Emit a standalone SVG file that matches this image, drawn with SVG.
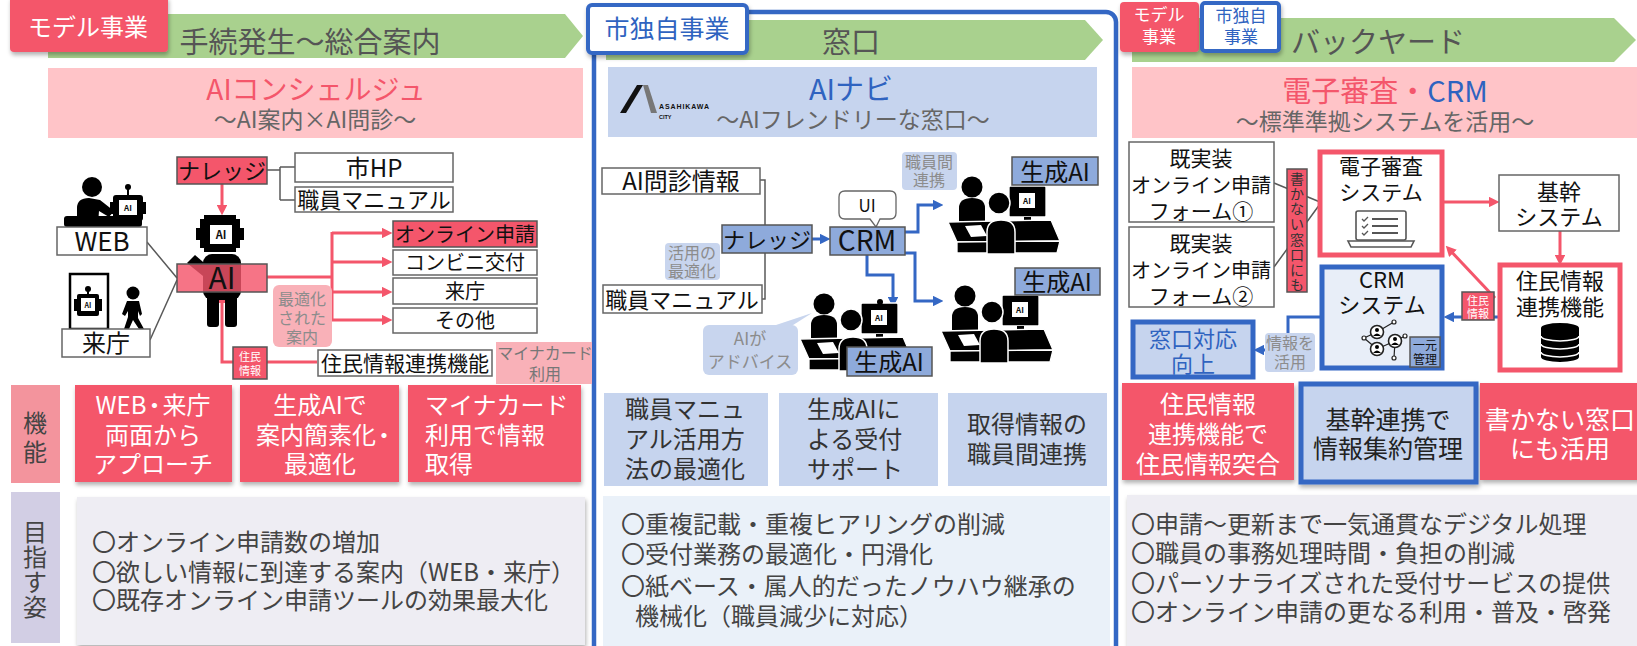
<svg xmlns="http://www.w3.org/2000/svg" width="1637" height="646" viewBox="0 0 1637 646">
<style>
text{font-family:"Noto Sans CJK JP","Noto Sans",sans-serif;fill:#111}
.c{text-anchor:middle}
.hd{font-size:29px;fill:#555}
.sub{font-size:23px;fill:#666}
.box{fill:#fff;stroke:#666;stroke-width:1.5}
.rbox{fill:#f4566b;stroke:#555;stroke-width:1.5}
.bbox{fill:#8eaadb;stroke:#555;stroke-width:1.5}
.lbl{fill:#c8d5ee}
.plbl{fill:#f9b1b8}
.gt{fill:#8c8c8c;font-size:16px}
.ln{fill:none;stroke:#595959;stroke-width:1.5}
.ra{fill:none;stroke:#f4566b;stroke-width:3}
.ba{fill:none;stroke:#3467c4;stroke-width:3}
.ic{fill:#000}
.wf{fill:#fff}
.feat{fill:#f4566b}
.ft{font-size:24px;fill:#fff}
.bt{font-size:24px;fill:#333}
.goal{font-size:24px;fill:#444}
.bold{font-weight:bold}
</style>
<defs>
<filter id="sh" x="-10%" y="-10%" width="125%" height="135%"><feDropShadow dx="1" dy="3" stdDeviation="2" flood-color="#000" flood-opacity="0.3"/></filter>
<marker id="mr" viewBox="0 0 10 10" refX="2" refY="5" markerWidth="3.5" markerHeight="3.5" orient="auto"><path d="M0,0L10,5L0,10z" fill="#f4566b"/></marker>
<marker id="mb" viewBox="0 0 10 10" refX="2" refY="5" markerWidth="3.5" markerHeight="3.5" orient="auto"><path d="M0,0L10,5L0,10z" fill="#3467c4"/></marker>
<!-- two staff members at a counter with an AI monitor -->
<g id="worker">
 <circle cx="27" cy="14" r="10.5" class="ic"/>
 <path d="M14,50V35Q14,25 27,25Q40,25 40,35V50Z" class="ic"/>
 <rect x="64" y="13" width="37" height="31" rx="1.5" fill="#000" stroke="#fff" stroke-width="1.3"/>
 <rect x="74" y="20" width="16" height="15" fill="#fff"/>
 <text x="82" y="31" class="c bold" style="font-size:8px">AI</text>
 <rect x="79" y="44" width="7" height="5" class="ic"/>
 <polygon points="3,49 106,47 115,68 12,69" fill="#000" stroke="#fff" stroke-width="1.3"/>
 <polygon points="12,69 115,68 112,80 12,80" fill="#000" stroke="#fff" stroke-width="1.3"/>
 <polygon points="20,53 36,52 42,63 26,64" fill="#fff"/>
 <circle cx="54" cy="30" r="11" fill="#000" stroke="#fff" stroke-width="1.5"/>
 <path d="M42,81V59Q42,47 56,47Q70,47 70,59V81Z" fill="#000" stroke="#fff" stroke-width="1.5"/>
</g>
</defs>

<rect width="1637" height="646" fill="#fff"/>

<!-- ===== headers ===== -->
<g id="header-left">
 <polygon points="48,14 565,14 583,36 565,58 48,58" fill="#a9d18e"/>
 <rect x="10" y="-4" width="158" height="56" rx="4" fill="#f4566b" filter="url(#sh)"/>
 <text x="88" y="36" class="c" style="font-size:24px;fill:#fff">モデル事業</text>
 <text x="310" y="53" class="c hd">手続発生～総合案内</text>
 <rect x="48" y="68" width="535" height="70" fill="#ffc4c8"/>
 <text x="316" y="100" class="c" style="font-size:28px;fill:#f4566b">AIコンシェルジュ</text>
 <text x="315" y="128" class="c sub">～AI案内×AI問診～</text>
</g>

<g id="header-center">
 <polygon points="606,20 1085,20 1103,40 1085,60 606,60" fill="#a9d18e"/>
 <rect x="594" y="12" width="522" height="645" rx="10" fill="none" stroke="#3467c4" stroke-width="4.5"/>
 <rect x="588" y="5" width="159" height="48" rx="4" fill="#fff" stroke="#3467c4" stroke-width="4" filter="url(#sh)"/>
 <text x="667" y="38" class="c" style="font-size:25px;fill:#2f63c0">市独自事業</text>
 <text x="851" y="53" class="c hd">窓口</text>
 <rect x="608" y="67" width="489" height="70" fill="#c6d4ee"/>
 <polygon points="620,113 637,85 643,85 626,113" fill="#111"/>
 <polygon points="643,85 648,85 657,113 651,113" fill="#777"/>
 <text x="659" y="109" textLength="50" style="font-size:7px;font-weight:bold;font-family:'Liberation Sans',sans-serif">ASAHIKAWA</text>
 <text x="659" y="119" style="font-size:5.5px;font-weight:bold;font-family:'Liberation Sans',sans-serif">CITY</text>
 <text x="851" y="100" class="c" style="font-size:29px;fill:#2f63c0">AIナビ</text>
 <text x="853" y="128" class="c sub">～AIフレンドリーな窓口～</text>
</g>

<g id="header-right">
 <polygon points="1132,18 1614,18 1636,40 1614,62 1132,62" fill="#a9d18e"/>
 <rect x="1120" y="2" width="79" height="50" rx="4" fill="#f4566b" filter="url(#sh)"/>
 <text x="1159" y="21" class="c" style="font-size:17px;fill:#fff">モデル</text>
 <text x="1159" y="43" class="c" style="font-size:17px;fill:#fff">事業</text>
 <rect x="1202" y="3" width="77" height="48" rx="3" fill="#fff" stroke="#3467c4" stroke-width="4" filter="url(#sh)"/>
 <text x="1241" y="22" class="c" style="font-size:17px;fill:#2f63c0">市独自</text>
 <text x="1241" y="43" class="c" style="font-size:17px;fill:#2f63c0">事業</text>
 <text x="1378" y="53" class="c hd">バックヤード</text>
 <rect x="1132" y="67" width="505" height="71" fill="#ffc4c8"/>
 <text x="1385" y="102" class="c" style="font-size:29px"><tspan style="fill:#f4566b">電子審査・</tspan><tspan style="fill:#2f63c0">CRM</tspan></text>
 <text x="1385" y="130" class="c sub">～標準準拠システムを活用～</text>
</g>

<!-- ===== connectors ===== -->
<g id="connectors">
 <!-- left: concierge -->
 <path class="ln" d="M267,170H280M280,167V200M280,167H295M280,200H295"/>
 <path class="ln" d="M147,242L177,278M150,340L177,280"/>
 <path class="ra" d="M222,184V207" marker-end="url(#mr)"/>
 <path class="ra" d="M267,277H332M332,232V321"/>
 <path class="ra" d="M332,233H384" marker-end="url(#mr)"/>
 <path class="ra" d="M332,262H384" marker-end="url(#mr)"/>
 <path class="ra" d="M332,292H384" marker-end="url(#mr)"/>
 <path class="ra" d="M332,320H384" marker-end="url(#mr)"/>
 <path class="ra" d="M317,362H222V301" marker-end="url(#mr)"/>
 <!-- center: AI navi -->
 <path class="ln" d="M760,180H765V299H762"/>
 <path class="ba" d="M812,239H822" marker-end="url(#mb)"/>
 <path class="ba" d="M905,232H918V205H935" marker-end="url(#mb)"/>
 <path class="ba" d="M905,253H915V301H935" marker-end="url(#mb)"/>
 <path class="ba" d="M867,255V275H893V299" marker-end="url(#mb)"/>
 <!-- right: back office -->
 <path class="ln" d="M1274,183L1320,202M1274,267L1320,204"/>
 <path class="ra" d="M1442,202H1491" marker-end="url(#mr)"/>
 <path class="ra" d="M1560,231V257" marker-end="url(#mr)"/>
 <path class="ra" d="M1495,298L1451.5,251.8" marker-end="url(#mr)"/>
 <path class="ba" d="M1500,317H1452" marker-end="url(#mb)"/>
 <path class="ba" d="M1322,317H1288V350H1262" marker-end="url(#mb)"/>
</g>

<!-- ===== left diagram nodes ===== -->
<g id="web-user">
 <circle cx="92" cy="187" r="10" class="ic"/>
 <path d="M77,224V208Q77,198 89,198L100,200L114,211L109,217L99,211L98,224Z" class="ic"/>
 <rect x="64" y="216" width="78" height="11" rx="3" class="ic"/>
 <circle cx="128" cy="187" r="3" class="ic"/>
 <rect x="127" y="188" width="2" height="8" class="ic"/>
 <rect x="110" y="202" width="4" height="12" class="ic"/>
 <rect x="142" y="202" width="4" height="12" class="ic"/>
 <rect x="113" y="195" width="30" height="26" rx="3" class="ic"/>
 <rect x="119" y="200" width="18" height="15" class="wf"/>
 <text x="128" y="211" class="c bold" style="font-size:8px">AI</text>
</g>
<g id="web">
 <rect x="57" y="227" width="90" height="28" class="box"/>
 <text x="102" y="251" class="c" style="font-size:26px">WEB</text>
</g>
<g id="visit-user">
 <rect x="70" y="274" width="38" height="55" fill="#fff" stroke="#000" stroke-width="2.5"/>
 <circle cx="88" cy="289" r="3" class="ic"/>
 <rect x="87" y="290" width="2" height="5" class="ic"/>
 <rect x="74" y="299" width="4" height="12" class="ic"/>
 <rect x="98" y="299" width="4" height="12" class="ic"/>
 <rect x="77" y="294" width="22" height="22" rx="2" class="ic"/>
 <rect x="81" y="298" width="14" height="13" class="wf"/>
 <text x="88" y="308" class="c bold" style="font-size:7px">AI</text>
 <circle cx="133" cy="293" r="6.5" class="ic"/>
 <path d="M127,301H139L142,314L140,316L138,311V318L144,329H139L133,320L129,329H124L128,317V311L125,316L122,314Z" class="ic"/>
</g>
<g id="visit">
 <rect x="62" y="329" width="88" height="28" class="box"/>
 <text x="106" y="352" class="c" style="font-size:24px">来庁</text>
</g>
<g id="robot">
 <rect x="196" y="228" width="5" height="12" class="ic"/>
 <rect x="239" y="228" width="5" height="12" class="ic"/>
 <path d="M204,215H236V219H240V248H236V252H204V248H200V219H204Z" class="ic"/>
 <rect x="210" y="225" width="22" height="19" class="wf"/>
 <text x="221" y="239" class="c bold" style="font-size:11px">AI</text>
 <rect x="203" y="254" width="38" height="46" rx="9" class="ic"/>
 <polygon points="187,263 195,255 210,268 203,276" class="ic"/>
 <rect x="207" y="294" width="12" height="33" rx="3" class="ic"/>
 <rect x="225" y="294" width="12" height="33" rx="3" class="ic"/>
</g>
<g id="ai">
 <rect x="177" y="264" width="90" height="28" fill="#f4566b" fill-opacity="0.82" stroke="#555" stroke-width="1.5"/>
 <text x="222" y="289" class="c" style="font-size:30px">AI</text>
</g>
<g id="knowledge-left">
 <rect x="177" y="157" width="90" height="27" class="rbox"/>
 <text x="222" y="179" class="c" style="font-size:22px">ナレッジ</text>
</g>
<g id="city-hp">
 <rect x="295" y="153" width="158" height="29" class="box"/>
 <text x="374" y="177" class="c" style="font-size:24px">市HP</text>
</g>
<g id="manual-left">
 <rect x="295" y="187" width="158" height="25" class="box"/>
 <text x="374" y="208" class="c" style="font-size:22px">職員マニュアル</text>
</g>
<g id="online">
 <rect x="393" y="221" width="144" height="26" class="rbox"/>
 <text x="465" y="242" class="c" style="font-size:20px">オンライン申請</text>
</g>
<g id="konbini">
 <rect x="393" y="250" width="144" height="25" class="box"/>
 <text x="465" y="270" class="c" style="font-size:20px">コンビニ交付</text>
</g>
<g id="visit-out">
 <rect x="393" y="278" width="144" height="26" class="box"/>
 <text x="465" y="299" class="c" style="font-size:20px">来庁</text>
</g>
<g id="other">
 <rect x="393" y="308" width="144" height="25" class="box"/>
 <text x="465" y="328" class="c" style="font-size:20px">その他</text>
</g>
<g id="optimized-label">
 <rect x="273" y="285" width="59" height="62" rx="6" class="plbl"/>
 <text x="302" y="305" class="c gt">最適化</text>
 <text x="302" y="324" class="c gt">された</text>
 <text x="302" y="343" class="c gt">案内</text>
</g>
<g id="resident-link-left">
 <rect x="318" y="350" width="174" height="26" class="box"/>
 <text x="405" y="371" class="c" style="font-size:21px">住民情報連携機能</text>
</g>
<g id="resident-tag-left">
 <rect x="233" y="347" width="34" height="32" class="rbox"/>
 <text x="250" y="361" class="c" style="font-size:11px;fill:#fff">住民</text>
 <text x="250" y="375" class="c" style="font-size:11px;fill:#fff">情報</text>
</g>
<g id="mynumber">
 <rect x="496" y="342" width="96" height="42" class="plbl"/>
 <text x="545" y="359" class="c" style="font-size:16px;fill:#777">マイナカード</text>
 <text x="545" y="380" class="c" style="font-size:16px;fill:#777">利用</text>
</g>

<!-- ===== center diagram nodes ===== -->
<g id="interview">
 <rect x="602" y="168" width="158" height="26" class="box"/>
 <text x="681" y="190" class="c" style="font-size:24px">AI問診情報</text>
</g>
<g id="manual-center">
 <rect x="603" y="285" width="159" height="28" class="box"/>
 <text x="682" y="308" class="c" style="font-size:22px">職員マニュアル</text>
</g>
<g id="usage-label">
 <rect x="665" y="243" width="55" height="37" rx="4" class="lbl"/>
 <text x="692" y="259" class="c gt">活用の</text>
 <text x="692" y="277" class="c gt">最適化</text>
</g>
<g id="knowledge-center">
 <rect x="722" y="225" width="90" height="28" class="bbox"/>
 <text x="767" y="248" class="c" style="font-size:22px">ナレッジ</text>
</g>
<g id="ui-bubble">
 <path d="M845,191H890Q896,191 896,197V213Q896,219 890,219H880L876,227L870,219H845Q839,219 839,213V197Q839,191 845,191Z" fill="#fff" stroke="#666" stroke-width="1.3"/>
 <text x="867" y="212" class="c" style="font-size:17px">UI</text>
</g>
<g id="crm-center">
 <rect x="830" y="227" width="75" height="28" class="bbox"/>
 <text x="867" y="251" class="c" style="font-size:28px">CRM</text>
</g>
<g id="staff-link-label">
 <rect x="902" y="152" width="55" height="38" rx="4" class="lbl"/>
 <text x="929" y="168" class="c gt">職員間</text>
 <text x="929" y="186" class="c gt">連携</text>
</g>
<g id="advice-label">
 <polygon points="770,327 790,327 812,313" class="lbl"/>
 <rect x="703" y="325" width="95" height="50" rx="6" class="lbl"/>
 <text x="750" y="345" class="c gt" style="font-size:17px">AIが</text>
 <text x="750" y="368" class="c gt" style="font-size:17px">アドバイス</text>
</g>
<g id="desk-1"><use href="#worker" transform="translate(945,173)"/></g>
<g id="desk-2"><use href="#worker" transform="translate(938,282)"/></g>
<g id="desk-3">
 <use href="#worker" transform="translate(797,290)"/>
 <circle cx="880" cy="302" r="3" class="ic"/>
</g>
<g id="genai-1">
 <rect x="1012" y="157" width="86" height="28" class="bbox"/>
 <text x="1055" y="181" class="c" style="font-size:24px">生成AI</text>
</g>
<g id="genai-2">
 <rect x="1015" y="268" width="85" height="27" class="bbox"/>
 <text x="1057" y="291" class="c" style="font-size:24px">生成AI</text>
</g>
<g id="genai-3">
 <rect x="847" y="347" width="85" height="29" class="bbox"/>
 <text x="889" y="371" class="c" style="font-size:24px">生成AI</text>
</g>

<!-- ===== right diagram nodes ===== -->
<g id="form-1">
 <rect x="1129" y="142" width="145" height="80" class="box"/>
 <text x="1201" y="166" class="c" style="font-size:21px">既実装</text>
 <text x="1201" y="193" class="c" style="font-size:20px">オンライン申請</text>
 <text x="1201" y="219" class="c" style="font-size:21px">フォーム①</text>
</g>
<g id="form-2">
 <rect x="1129" y="227" width="145" height="80" class="box"/>
 <text x="1201" y="251" class="c" style="font-size:21px">既実装</text>
 <text x="1201" y="278" class="c" style="font-size:20px">オンライン申請</text>
 <text x="1201" y="304" class="c" style="font-size:21px">フォーム②</text>
</g>
<g id="no-writing-tag">
 <rect x="1287" y="169" width="20" height="123" class="rbox"/>
 <text class="c" style="font-size:14px;fill:#333"><tspan x="1297" y="184">書</tspan><tspan x="1297" y="199">か</tspan><tspan x="1297" y="214">な</tspan><tspan x="1297" y="229">い</tspan><tspan x="1297" y="245">窓</tspan><tspan x="1297" y="260">口</tspan><tspan x="1297" y="275">に</tspan><tspan x="1297" y="290">も</tspan></text>
</g>
<g id="e-review">
 <rect x="1320" y="152" width="122" height="103" fill="#fff" stroke="#f4566b" stroke-width="5"/>
 <text x="1381" y="174" class="c" style="font-size:21px">電子審査</text>
 <text x="1381" y="200" class="c" style="font-size:21px">システム</text>
 <rect x="1356" y="211" width="50" height="29" rx="2" fill="none" stroke="#555" stroke-width="1.6"/>
 <path d="M1348,241H1414L1411,247H1351Z" fill="none" stroke="#555" stroke-width="1.6"/>
 <path d="M1362,219l2,2 4,-4M1362,226l2,2 4,-4M1362,233l2,2 4,-4" fill="none" stroke="#555" stroke-width="1.3"/>
 <path d="M1372,219H1398M1372,226H1398M1372,233H1398" fill="none" stroke="#555" stroke-width="2"/>
</g>
<g id="core">
 <rect x="1499" y="175" width="120" height="56" class="box"/>
 <text x="1559" y="200" class="c" style="font-size:22px">基幹</text>
 <text x="1559" y="225" class="c" style="font-size:22px">システム</text>
</g>
<g id="resident-link-right">
 <rect x="1500" y="265" width="120" height="105" fill="#fff" stroke="#f4566b" stroke-width="5"/>
 <text x="1560" y="289" class="c" style="font-size:22px">住民情報</text>
 <text x="1560" y="315" class="c" style="font-size:22px">連携機能</text>
 <path d="M1541,328V357A19,5 0 0 0 1579,357V328Z" class="ic"/>
 <ellipse cx="1560" cy="328" rx="19" ry="5" class="ic"/>
 <path d="M1541,336A19,5 0 0 0 1579,336M1541,344A19,5 0 0 0 1579,344M1541,352A19,5 0 0 0 1579,352" fill="none" stroke="#fff" stroke-width="1.5"/>
</g>
<g id="resident-tag-right">
 <rect x="1462" y="292" width="32" height="28" class="rbox"/>
 <text x="1478" y="305" class="c" style="font-size:11px;fill:#fff">住民</text>
 <text x="1478" y="318" class="c" style="font-size:11px;fill:#fff">情報</text>
</g>
<g id="crm-system">
 <rect x="1322" y="267" width="120" height="101" fill="#e8eef8" stroke="#3467c4" stroke-width="5"/>
 <text x="1382" y="288" class="c" style="font-size:22px">CRM</text>
 <text x="1382" y="313" class="c" style="font-size:22px">システム</text>
 <path d="M1364,338L1377,332M1377,332L1394,322M1395,341L1394,358M1377,349L1395,341M1364,338L1377,349M1395,341L1405,336" fill="none" stroke="#222" stroke-width="1.2"/>
 <circle cx="1364" cy="338" r="2" fill="#fff" stroke="#222" stroke-width="1.2"/>
 <circle cx="1394" cy="322" r="2" fill="#fff" stroke="#222" stroke-width="1.2"/>
 <circle cx="1394" cy="358" r="2" fill="#fff" stroke="#222" stroke-width="1.2"/>
 <circle cx="1405" cy="336" r="2" fill="#fff" stroke="#222" stroke-width="1.2"/>
 <g fill="#fff" stroke="#222" stroke-width="1.6">
  <circle cx="1377" cy="332" r="6.5"/><circle cx="1395" cy="341" r="6.5"/><circle cx="1377" cy="349" r="6.5"/>
 </g>
 <g class="ic">
  <circle cx="1377" cy="330" r="2"/><path d="M1373,336Q1377,331 1381,336Z"/>
  <circle cx="1395" cy="339" r="2"/><path d="M1391,345Q1395,340 1399,345Z"/>
  <circle cx="1377" cy="347" r="2"/><path d="M1373,353Q1377,348 1381,353Z"/>
 </g>
</g>
<g id="unified-tag">
 <rect x="1410" y="337" width="30" height="30" class="bbox"/>
 <text x="1425" y="350" class="c" style="font-size:12px">一元</text>
 <text x="1425" y="364" class="c" style="font-size:12px">管理</text>
</g>
<g id="service-up">
 <rect x="1133" y="322" width="120" height="55" fill="#c6d4ee" stroke="#3467c4" stroke-width="5"/>
 <text x="1193" y="347" class="c" style="font-size:22px;fill:#2f63c0">窓口対応</text>
 <text x="1193" y="372" class="c" style="font-size:22px;fill:#2f63c0">向上</text>
</g>
<g id="use-info-label">
 <rect x="1265" y="333" width="50" height="39" rx="4" class="lbl"/>
 <text x="1290" y="349" class="c gt">情報を</text>
 <text x="1290" y="368" class="c gt">活用</text>
</g>

<!-- ===== row captions ===== -->
<g id="caption-function">
 <rect x="11" y="385" width="49" height="98" fill="#f3949d"/>
 <text x="35" y="432" class="c" style="font-size:24px;fill:#444">機</text>
 <text x="35" y="461" class="c" style="font-size:24px;fill:#444">能</text>
</g>
<g id="caption-goal">
 <rect x="11" y="492" width="49" height="151" fill="#d2cee4"/>
 <text class="c" style="font-size:24px;fill:#444"><tspan x="35" y="541">目</tspan><tspan x="35" y="566">指</tspan><tspan x="35" y="591">す</tspan><tspan x="35" y="616">姿</tspan></text>
</g>

<!-- ===== feature boxes ===== -->
<g id="feat-l1">
 <rect x="75" y="385" width="157" height="97" class="feat" filter="url(#sh)"/>
 <text x="153" y="414" class="c ft">WEB<tspan dx="-4">・</tspan><tspan dx="-4">来庁</tspan></text>
 <text x="153" y="444" class="c ft">両面から</text>
 <text x="153" y="473" class="c ft">アプローチ</text>
</g>
<g id="feat-l2">
 <rect x="240" y="385" width="159" height="97" class="feat" filter="url(#sh)"/>
 <text x="320" y="414" class="c ft">生成AIで</text>
 <text x="326" y="444" class="c ft">案内簡素化<tspan dx="-4">・</tspan></text>
 <text x="320" y="473" class="c ft">最適化</text>
</g>
<g id="feat-l3">
 <rect x="408" y="385" width="173" height="97" class="feat" filter="url(#sh)"/>
 <text x="425" y="414" class="ft">マイナカード</text>
 <text x="425" y="444" class="ft">利用で情報</text>
 <text x="425" y="473" class="ft">取得</text>
</g>
<g id="feat-c1">
 <rect x="604" y="393" width="164" height="93" fill="#c6d4ee"/>
 <text x="625" y="418" class="bt">職員マニュ</text>
 <text x="625" y="448" class="bt">アル活用方</text>
 <text x="625" y="478" class="bt">法の最適化</text>
</g>
<g id="feat-c2">
 <rect x="779" y="393" width="159" height="93" fill="#c6d4ee"/>
 <text x="807" y="418" class="bt">生成AIに</text>
 <text x="807" y="448" class="bt">よる受付</text>
 <text x="807" y="478" class="bt">サポート</text>
</g>
<g id="feat-c3">
 <rect x="948" y="393" width="159" height="93" fill="#c6d4ee"/>
 <text x="1027" y="433" class="c bt">取得情報の</text>
 <text x="1027" y="463" class="c bt">職員間連携</text>
</g>
<g id="feat-r1">
 <rect x="1122" y="383" width="172" height="97" class="feat" filter="url(#sh)"/>
 <text x="1208" y="413" class="c ft">住民情報</text>
 <text x="1208" y="443" class="c ft">連携機能で</text>
 <text x="1208" y="473" class="c ft">住民情報突合</text>
</g>
<g id="feat-r2">
 <rect x="1301" y="384" width="175" height="98" fill="#c6d4ee" stroke="#3467c4" stroke-width="5" filter="url(#sh)"/>
 <text x="1388" y="429" class="c bt" style="font-size:25px;fill:#222">基幹連携で</text>
 <text x="1388" y="458" class="c bt" style="font-size:25px;fill:#222">情報集約管理</text>
</g>
<g id="feat-r3">
 <rect x="1480" y="383" width="162" height="97" class="feat" filter="url(#sh)"/>
 <text x="1560" y="429" class="c ft" style="font-size:25px">書かない窓口</text>
 <text x="1560" y="458" class="c ft" style="font-size:25px">にも活用</text>
</g>

<!-- ===== goal boxes ===== -->
<g id="goal-left">
 <rect x="77" y="497" width="508" height="148" fill="#eeedf3" filter="url(#sh)"/>
 <text x="92" y="551" class="goal">〇オンライン申請数の増加</text>
 <text x="92" y="581" class="goal">〇欲しい情報に到達する案内（WEB・来庁）</text>
 <text x="92" y="609" class="goal">〇既存オンライン申請ツールの効果最大化</text>
</g>
<g id="goal-center">
 <rect x="603" y="496" width="507" height="152" fill="#eaf1f9"/>
 <text x="621" y="533" class="goal">〇重複記載・重複ヒアリングの削減</text>
 <text x="621" y="563" class="goal">〇受付業務の最適化・円滑化</text>
 <text x="621" y="595" class="goal">〇紙ベース・属人的だったノウハウ継承の</text>
 <text x="635" y="625" class="goal">機械化（職員減少に対応）</text>
</g>
<g id="goal-right">
 <rect x="1127" y="495" width="515" height="152" fill="#eeedf3" filter="url(#sh)"/>
 <text x="1131" y="533" class="goal">〇申請～更新まで一気通貫なデジタル処理</text>
 <text x="1131" y="562" class="goal">〇職員の事務処理時間・負担の削減</text>
 <text x="1131" y="592" class="goal">〇パーソナライズされた受付サービスの提供</text>
 <text x="1131" y="621" class="goal">〇オンライン申請の更なる利用・普及・啓発</text>
</g>
</svg>
